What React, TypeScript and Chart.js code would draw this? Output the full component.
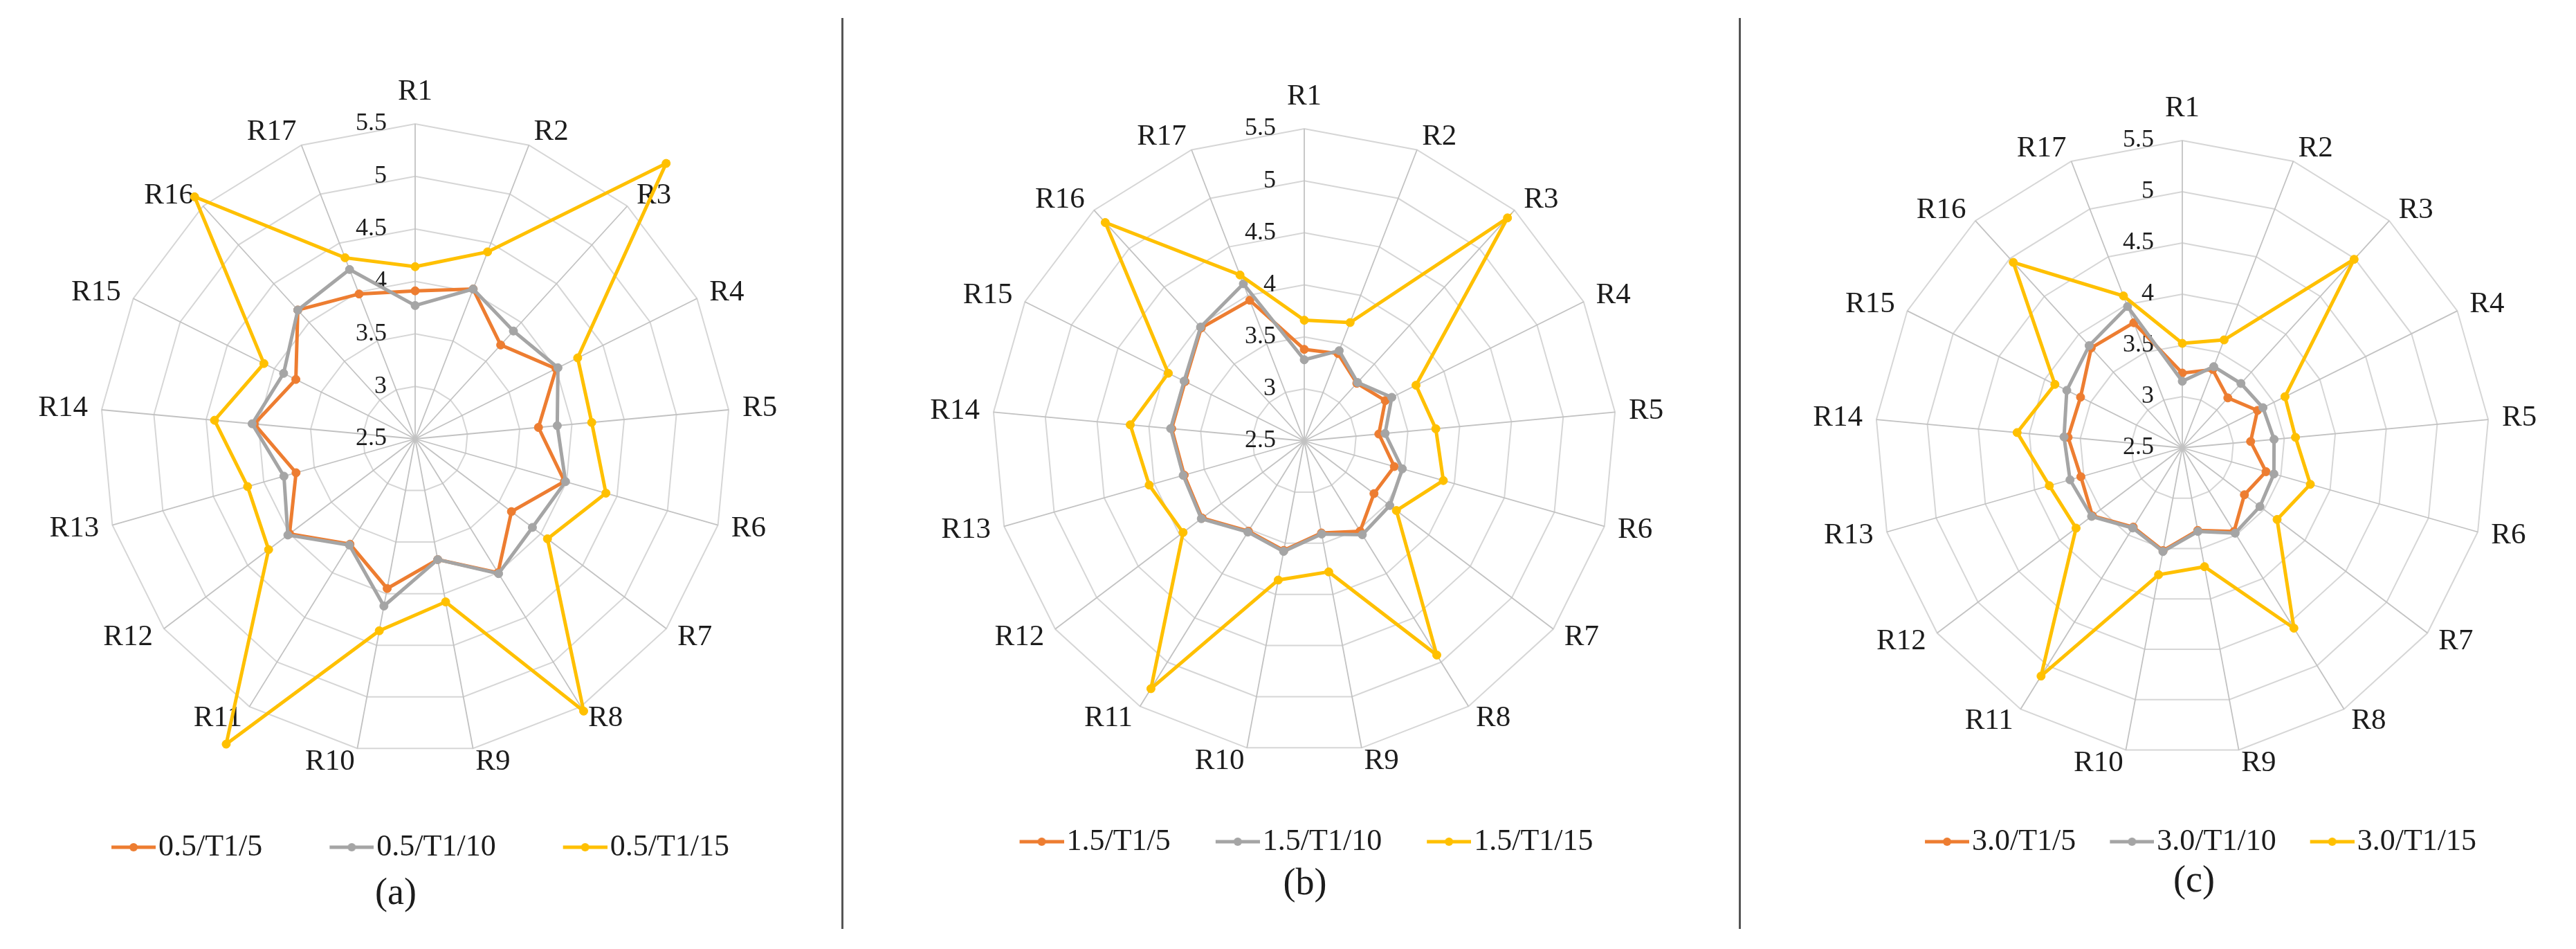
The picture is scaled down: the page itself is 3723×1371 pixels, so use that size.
import React, { useEffect, useRef } from 'react';
import { Chart, registerables } from 'chart.js';

Chart.register(...registerables);

// ---------- data ----------
const categories = ['R1', 'R2', 'R3', 'R4', 'R5', 'R6', 'R7', 'R8', 'R9', 'R10', 'R11', 'R12', 'R13', 'R14', 'R15', 'R16', 'R17'];
const tickLabels = ['2.5', '3', '3.5', '4', '4.5', '5', '5.5'];
const scaleMin = 2.5;
const scaleMax = 5.5;
const scaleStep = 0.5;

const legendA = ['0.5/T1/5', '0.5/T1/10', '0.5/T1/15'];
const legendB = ['1.5/T1/5', '1.5/T1/10', '1.5/T1/15'];
const legendC = ['3.0/T1/5', '3.0/T1/10', '3.0/T1/15'];

const a_T5 = [3.91, 4.03, 3.71, 4.0, 3.68, 3.98, 3.65, 4.0, 3.67, 3.95, 3.68, 4.0, 3.68, 4.04, 3.77, 4.16, 3.98];
const a_T10 = [3.77, 4.03, 3.89, 4.02, 3.86, 3.99, 3.9, 4.01, 3.67, 4.12, 3.69, 4.02, 3.8, 4.06, 3.9, 4.16, 4.23];
const a_T15 = [4.14, 4.41, 6.05, 4.23, 4.19, 4.39, 4.08, 5.55, 4.08, 4.36, 5.92, 4.25, 4.16, 4.42, 4.11, 5.62, 4.35];

const b_T5 = [3.38, 3.4, 3.25, 3.37, 3.22, 3.4, 3.34, 3.52, 3.4, 3.57, 3.52, 3.73, 3.7, 3.78, 3.78, 3.97, 3.95];
const b_T10 = [3.28, 3.43, 3.26, 3.44, 3.28, 3.48, 3.53, 3.56, 3.41, 3.58, 3.53, 3.74, 3.71, 3.79, 3.79, 3.98, 4.12];
const b_T15 = [3.66, 3.72, 5.4, 3.7, 3.77, 3.89, 3.61, 4.92, 3.78, 3.86, 5.3, 3.96, 4.05, 4.18, 3.96, 5.34, 4.21];

const c_T5 = [3.23, 3.32, 3.16, 3.32, 3.17, 3.35, 3.26, 3.46, 3.32, 3.52, 3.41, 3.6, 3.53, 3.62, 3.61, 3.82, 3.81];
const c_T10 = [3.15, 3.35, 3.35, 3.38, 3.4, 3.43, 3.45, 3.48, 3.33, 3.53, 3.42, 3.61, 3.64, 3.66, 3.76, 3.85, 3.98];
const c_T15 = [3.52, 3.63, 4.99, 3.62, 3.61, 3.8, 3.66, 4.57, 3.68, 3.76, 5.12, 3.8, 3.85, 4.12, 3.89, 4.95, 4.09];

const captions = ['(a)', '(b)', '(c)'];

// ---------- style ----------
const seriesColors = ['#ED7D31', '#A5A5A5', '#FFC000'];
const FONT = "'Liberation Serif', 'Times New Roman', serif";
const TEXT = '#1c1c1c';

type Panel = {
  left: number; width: number; height: number;
  cx: number; cy: number; radius: number;
  legendPad: number;
  labels: string[]; series: number[][];
  caption: string; capX: number; capY: number;
};

const panels: Panel[] = [
  { left: 0, width: 1215, height: 1256, cx: 600, cy: 634, radius: 455, legendPad: 97,
    labels: legendA, series: [a_T5, a_T10, a_T15], caption: captions[0], capX: 572, capY: 1288 },
  { left: 1288, width: 1200, height: 1248, cx: 597, cy: 637, radius: 451, legendPad: 65,
    labels: legendB, series: [b_T5, b_T10, b_T15], caption: captions[1], capX: 1886, capY: 1274 },
  { left: 2580, width: 1201, height: 1248, cx: 574, cy: 647, radius: 444, legendPad: 49,
    labels: legendC, series: [c_T5, c_T10, c_T15], caption: captions[2], capX: 3171, capY: 1270 },
];

const LABEL_SIZE = 43;
const LABEL_LH = 1.2;
const LABEL_GAP = 20;
const BOX_W = 46;

function makeMarker(color: string): HTMLCanvasElement {
  const c = document.createElement('canvas');
  c.width = 82;
  c.height = 16;
  const g = c.getContext('2d')!;
  g.strokeStyle = color;
  g.lineWidth = 5;
  g.beginPath();
  g.moveTo(18, 8);
  g.lineTo(82, 8);
  g.stroke();
  g.fillStyle = color;
  g.beginPath();
  g.arc(50, 8, 6, 0, Math.PI * 2);
  g.fill();
  return c;
}

function RadarPanel({ p }: { p: Panel }) {
  const ref = useRef<HTMLCanvasElement>(null);
  useEffect(() => {
    const canvas = ref.current!;
    const markers = seriesColors.map(makeMarker);
    const tickPlugin = {
      id: 'leftTicks',
      beforeDatasetsDraw(chart: any) {
        const s = chart.scales.r;
        const ctx = chart.ctx;
        ctx.save();
        ctx.font = `36px ${FONT}`;
        ctx.fillStyle = TEXT;
        ctx.textAlign = 'right';
        ctx.textBaseline = 'middle';
        s.ticks.forEach((t: any) => {
          const d = s.getDistanceFromCenterForValue(t.value);
          ctx.fillText(t.label, s.xCenter - 41, s.yCenter - d);
        });
        ctx.restore();
      },
    };
    const chart = new Chart(canvas, {
      type: 'radar',
      data: {
        labels: categories,
        datasets: p.series.map((vals, i) => ({
          label: p.labels[i],
          data: vals,
          borderColor: seriesColors[i],
          backgroundColor: seriesColors[i],
          pointBackgroundColor: seriesColors[i],
          pointBorderColor: seriesColors[i],
          pointBorderWidth: 1,
          pointRadius: 6,
          borderWidth: 5,
          fill: false,
          tension: 0,
          clip: false,
          order: 3 - i,
        })),
      },
      options: {
        responsive: false,
        animation: false,
        devicePixelRatio: 1,
        layout: { padding: 0 },
        plugins: {
          tooltip: { enabled: false },
          title: { display: false },
          legend: {
            display: true,
            position: 'bottom',
            labels: {
              usePointStyle: true,
              pointStyleWidth: BOX_W,
              padding: p.legendPad,
              color: TEXT,
              font: { family: FONT, size: 44 },
              generateLabels: (ch: any) =>
                ch.data.datasets.map((ds: any, i: number) => ({
                  text: ds.label,
                  fillStyle: ds.borderColor,
                  strokeStyle: ds.borderColor,
                  lineWidth: 0,
                  hidden: false,
                  datasetIndex: i,
                  pointStyle: markers[i],
                  fontColor: TEXT,
                })),
            },
          },
        },
        scales: {
          r: {
            min: scaleMin,
            max: scaleMax,
            ticks: {
              display: false,
              stepSize: scaleStep,
              callback: (_v: any, i: number) => tickLabels[i],
            },
            grid: { color: '#D6D6D6', lineWidth: 2, circular: false },
            angleLines: { color: '#C2C2C2', lineWidth: 1.8 },
            pointLabels: {
              display: true,
              color: TEXT,
              padding: LABEL_GAP,
              font: { family: FONT, size: LABEL_SIZE, lineHeight: LABEL_LH },
            },
            afterFit: (scale: any) => {
              scale.xCenter = p.cx;
              scale.yCenter = p.cy;
              scale.drawingArea = p.radius;
              const lh = LABEL_SIZE * LABEL_LH;
              const ctx = scale.ctx;
              ctx.save();
              ctx.font = `${LABEL_SIZE}px ${FONT}`;
              const items = categories.map((lab, i) => {
                const pos = scale.getPointPosition(i, p.radius + LABEL_GAP);
                const cos = Math.cos(pos.angle);
                const align = Math.abs(cos) < 0.05 ? 'center' : cos > 0 ? 'left' : 'right';
                const y = align === 'center' ? (pos.y < p.cy ? pos.y - lh : pos.y) : pos.y - lh / 2;
                const w = ctx.measureText(lab).width;
                const left = align === 'left' ? pos.x : align === 'right' ? pos.x - w : pos.x - w / 2;
                return { visible: true, x: pos.x, y, textAlign: align, left, top: y, right: left + w, bottom: y + lh };
              });
              ctx.restore();
              scale._pointLabelItems = items;
            },
          } as any,
        },
      } as any,
      plugins: [tickPlugin],
    });
    return () => chart.destroy();
  }, [p]);
  return (
    <canvas
      ref={ref}
      width={p.width}
      height={p.height}
      style={{ position: 'absolute', left: p.left, top: 0, width: p.width, height: p.height, display: 'block' }}
    />
  );
}

export default function App() {
  return (
    <div style={{ position: 'absolute', left: 0, top: 0, width: 3723, height: 1371, background: '#ffffff', overflow: 'hidden' }}>
      <div style={{ position: 'absolute', left: 1216, top: 26, width: 3, height: 1316, background: '#555555' }} />
      <div style={{ position: 'absolute', left: 2513, top: 26, width: 3, height: 1316, background: '#555555' }} />
      {panels.map((p, i) => (
        <RadarPanel key={i} p={p} />
      ))}
      {panels.map((p, i) => (
        <div
          key={'c' + i}
          style={{
            position: 'absolute', left: p.capX, top: p.capY, transform: 'translate(-50%, -50%)',
            fontFamily: FONT, fontSize: 54, color: TEXT, lineHeight: 1, whiteSpace: 'nowrap',
          }}
        >
          {p.caption}
        </div>
      ))}
    </div>
  );
}
